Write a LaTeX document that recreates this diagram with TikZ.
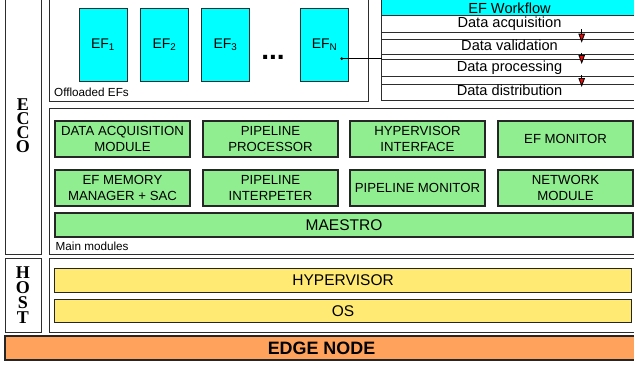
\documentclass[tikz,border=0pt]{standalone}
\usepackage{fontspec}
\setmainfont{Liberation Sans}
\newfontfamily\labelserif{Liberation Serif}
\usetikzlibrary{arrows.meta,calc}
\definecolor{efcyan}{RGB}{0,255,255}
\definecolor{modgreen}{RGB}{144,238,144}
\definecolor{hostyellow}{RGB}{255,234,115}
\definecolor{edgeorange}{RGB}{255,162,92}
\definecolor{linegray}{RGB}{45,45,45}
\begin{document}
\begin{tikzpicture}[x=1pt,y=-1pt,
  frame/.style={draw=linegray, line width=1pt, fill=white, rectangle, inner sep=0pt, outer sep=0pt},
  sidelabel/.style={frame, align=center, font=\labelserif\bfseries\fontsize{18}{14}\selectfont},
  efbox/.style={frame, fill=efcyan, minimum width=48pt, minimum height=73.7pt, font=\fontsize{14}{16}\selectfont},
  wfrow/.style={frame, minimum width=256pt, text height=10pt, text depth=2.7pt, font=\fontsize{14.6}{16}\selectfont},
  modbox/.style={frame, fill=modgreen, line width=1.1pt, draw=black!85, minimum width=135pt, minimum height=36pt, align=center, font=\fontsize{13.2}{15.7}\selectfont},
  bar/.style={frame, line width=1.1pt, draw=black!85, font=\fontsize{15.5}{18}\selectfont},
  smalllabel/.style={anchor=base west, inner sep=0pt, font=\fontsize{11.7}{13}\selectfont},
  wfarrow/.style={draw=black, line width=0.9pt, -{Triangle[length=9pt,width=6.5pt,fill=red]}}
]
\useasboundingbox (0,0) rectangle (634,364);

% ---------- ECCO ----------
\node[sidelabel, minimum width=36pt, minimum height=256pt] (ecco) at (23,126) {E\\C\\C\\O};

% Offloaded EFs
\node[frame, minimum width=319.3pt, minimum height=103pt] (off) at (208.65,49.5) {};
\node[smalllabel] (offlbl) at (54,96) {Offloaded EFs};
\node[efbox] (ef1) at (103,44.85) {EF\textsubscript{1}};
\node[efbox] (ef2) at (164.5,44.85) {EF\textsubscript{2}};
\node[efbox] (ef3) at (225.5,44.85) {EF\textsubscript{3}};
\node[efbox] (efn) at (324.5,44.85) {EF\textsubscript{N}};
\node[anchor=base, inner sep=0pt, font=\bfseries\fontsize{28}{30}\selectfont] (dots) at (273,59.3) {...};

% EF workflow
\node[frame, minimum width=256pt, minimum height=103pt] (wf) at (509.5,48.5) {};
\node[wfrow, fill=efcyan, minimum height=18pt, text height=14.6pt, text depth=0pt] (wfh) at (509.5,6) {EF Workflow};
\node[wfrow, minimum height=17.3pt] (da) at (509.5,23.65) {Data acquisition};
\node[wfrow, minimum height=15.3pt] (dv) at (509.5,46.65) {Data validation};
\node[wfrow, minimum height=17.7pt] (dp) at (509.5,67.85) {Data processing};
\node[wfrow, minimum height=16pt] (dd) at (509.5,92) {Data distribution};

\coordinate (ax) at (581.7,0);
\draw[wfarrow] ($(da.south -| ax)+(0,-3)$) -- ($(dv.north -| ax)+(0,3.7)$);
\draw[wfarrow] ($(dv.south -| ax)+(0,-1.5)$) -- ($(dp.north -| ax)+(0,5)$);
\draw[wfarrow] ($(dp.south -| ax)+(0,-1.7)$) -- ($(dd.north -| ax)+(0,3)$);

\coordinate (efdot) at (341.7,58.7);
\fill[black] (efdot) circle (1.5pt);
\draw[black, line width=0.8pt] (efdot) -- (efdot -| wf.west);

% Main modules
\node[frame, minimum width=588pt, minimum height=145.3pt] (main) at (343,181.35) {};
\node[smalllabel] (mainlbl) at (55.5,250.7) {Main modules};
\node[modbox] (dam) at (122.5,139) {DATA ACQUISITION\\MODULE};
\node[modbox] (ppr) at (270.5,139) {PIPELINE\\PROCESSOR};
\node[modbox] (hvi) at (417.5,139) {HYPERVISOR\\INTERFACE};
\node[modbox] (efm) at (565.5,139) {EF MONITOR};
\node[modbox] (mem) at (122.5,188) {EF MEMORY\\MANAGER + SAC};
\node[modbox] (pin) at (270.5,188) {PIPELINE\\INTERPETER};
\node[modbox] (pmo) at (417.5,188) {PIPELINE MONITOR};
\node[modbox] (net) at (565.5,188) {NETWORK\\MODULE};
\node[bar, fill=modgreen, minimum width=578pt, minimum height=24pt] (mae) at (344,225) {MAESTRO};

% ---------- HOST ----------
\node[sidelabel, font=\labelserif\bfseries\fontsize{18}{15}\selectfont, minimum width=36pt, minimum height=74pt] (host) at (23,295) {H\\O\\S\\T};
\node[frame, minimum width=588pt, minimum height=74pt] (hostbox) at (343,295) {};
\node[bar, fill=hostyellow, minimum width=577.2pt, minimum height=24pt] (hyp) at (343.1,280.3) {HYPERVISOR};
\node[bar, fill=hostyellow, minimum width=577.2pt, minimum height=23.4pt] (os) at (343.1,311) {OS};

% ---------- EDGE NODE ----------
\node[bar, fill=edgeorange, minimum width=633pt, minimum height=24pt, font=\bfseries\fontsize{17.9}{20}\selectfont] (edge) at (321.5,348) {EDGE NODE};
\end{tikzpicture}
\end{document}
